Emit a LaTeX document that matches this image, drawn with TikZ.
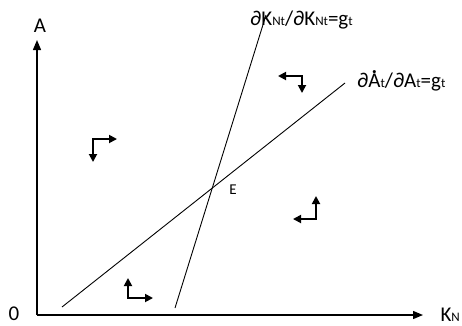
\documentclass[tikz,border=0pt]{standalone}
\usepackage{fontspec}
\setmainfont{Carlito}
\usetikzlibrary{arrows.meta}
\newcommand{\subsc}[1]{{\fontsize{13}{13}\selectfont #1}}
\newcommand{\dotA}{\ooalign{A\cr\hfil\raisebox{0.64em}{\textbf{.}}\hfil\cr}}
\begin{document}
\begin{tikzpicture}[x=1pt,y=-1pt,
  axis/.style={line width=1.3pt,-{Triangle[length=10pt,width=8pt]}},
  curve/.style={line width=0.9pt},
  flow/.style={line width=1.8pt,{Triangle[length=8pt,width=8pt]}-{Triangle[length=8pt,width=8pt]}},
  lbl/.style={inner sep=0pt,font=\fontsize{21}{21}\selectfont}]
\useasboundingbox (0,0) rectangle (462,325);
% axes
\coordinate (O) at (37,315);
\coordinate (Ytop) at (37,40);
\coordinate (Xend) at (423,315);
\draw[axis] (O) -- (Ytop);
\draw[axis] (O) -- (Xend);
\node[lbl] (la) at (40,26) {A};
\node[lbl] (lo) at (14,314) {0};
\node[lbl,anchor=base east] (lk) at (460,321) {K\subsc{N}};
% lines
\coordinate (s1) at (62,307);
\coordinate (s2) at (345,83);
\coordinate (t1) at (175,308);
\coordinate (t2) at (266,15);
\draw[curve] (s1) -- (s2);
\draw[curve] (t1) -- (t2);
\node[lbl,anchor=base west] (lK) at (250,25) {∂K\subsc{Nt}/∂K\subsc{Nt}=g\subsc{t}};
\node[lbl,anchor=base west] (lA) at (357,87) {∂\dotA\subsc{t}/∂A\subsc{t}=g\subsc{t}};
\node[font=\fontsize{15}{15}\selectfont,inner sep=0pt] (E) at (233,190) {E};
% direction arrows
\draw[flow] (117,139) -- (93,139) -- (93,162);
\draw[flow] (278,76) -- (302,76) -- (302,93);
\draw[flow] (316,196) -- (316,219) -- (293,219);
\draw[flow] (128,278) -- (128,298) -- (153,298);
\end{tikzpicture}
\end{document}
